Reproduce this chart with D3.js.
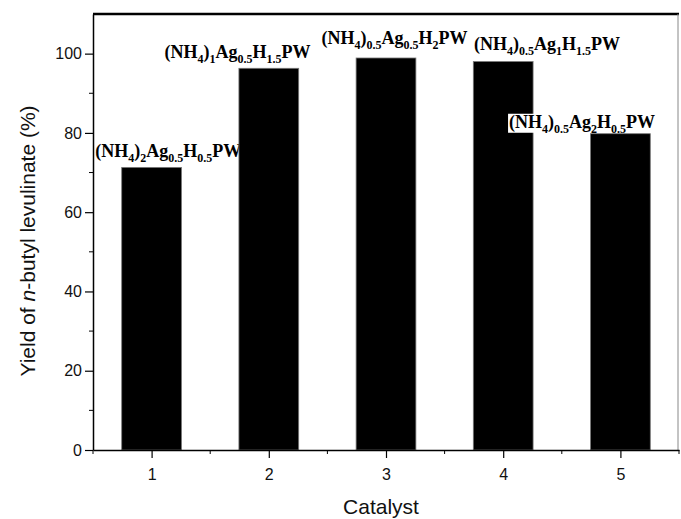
<!DOCTYPE html>
<html>
<head>
<meta charset="utf-8">
<script src="https://cdn.jsdelivr.net/npm/d3@7"></script>
<style>
  body { margin: 0; background: #fff; }
</style>
</head>
<body>
<div id="chart"></div>
<script>
// Data
const catalysts = [1, 2, 3, 4, 5];
const yields = [71.3, 96.3, 98.9, 98.0, 79.8];
// catalyst formulas, each piece is [text, isSubscript]
const formulas = [
    [["(NH", 0], ["4", 1], [")", 0], ["2", 1], ["Ag", 0], ["0.5", 1], ["H", 0], ["0.5", 1], ["PW", 0]],
    [["(NH", 0], ["4", 1], [")", 0], ["1", 1], ["Ag", 0], ["0.5", 1], ["H", 0], ["1.5", 1], ["PW", 0]],
    [["(NH", 0], ["4", 1], [")", 0], ["0.5", 1], ["Ag", 0], ["0.5", 1], ["H", 0], ["2", 1], ["PW", 0]],
    [["(NH", 0], ["4", 1], [")", 0], ["0.5", 1], ["Ag", 0], ["1", 1], ["H", 0], ["1.5", 1], ["PW", 0]],
    [["(NH", 0], ["4", 1], [")", 0], ["0.5", 1], ["Ag", 0], ["2", 1], ["H", 0], ["0.5", 1], ["PW", 0]]
];
// label start positions (in data units of catalyst / yield)
const labelX = [0.52, 1.11, 2.45, 3.75, 4.05];
const labelY = [74.0, 99.0, 102.5, 101.0, 81.3];
const yTicks = [0, 20, 40, 60, 80, 100];
const yMinor = [10, 30, 50, 70, 90];
const xMinor = [0.5, 1.5, 2.5, 3.5, 4.5, 5.5];

const width = 681,
    height = 519;
const margin = {top: 14, bottom: 69, left: 93, right: 2};

const svg = d3.select("#chart")
    .append("svg")
    .attr("width", width)
    .attr("height", height);

const xScale = d3.scaleLinear()
    .domain([0.5, 5.5])
    .range([margin.left, width - margin.right]);

const yScale = d3.scaleLinear()
    .domain([0, 110])
    .range([height - margin.bottom, margin.top]);

const barW = xScale(1.51) - xScale(1);

// draws one formula label with subscripts, optional white backing
function drawLabel(i, backed) {
    const g = svg.append("g");
    const y0 = yScale(labelY[i]);
    const t = g.append("text")
        .attr("x", xScale(labelX[i]))
        .attr("y", y0)
        .style("font-family", "Liberation Serif, Times New Roman, serif")
        .style("font-weight", "bold")
        .style("font-size", "18px")
        .attr("fill", "#000");
    let shifted = false;
    formulas[i].forEach(p => {
        const sp = t.append("tspan").text(p[0]);
        if (p[1]) {
            sp.style("font-size", "12px");
            if (!shifted) { sp.attr("dy", 5); shifted = true; }
        } else if (shifted) {
            sp.attr("dy", -5);
            shifted = false;
        }
    });
    if (backed) {
        const bb = t.node().getBBox();
        const top = bb.y + 2;
        g.insert("rect", "text")
            .attr("x", bb.x - 1).attr("y", top)
            .attr("width", bb.width + 2).attr("height", y0 + 5 - top)
            .attr("fill", "#fff");
    }
}

// first label sits behind bar 2
drawLabel(0, false);

// Bars
svg.selectAll("rect.bar")
    .data(catalysts)
    .enter().append("rect")
    .attr("class", "bar")
    .attr("x", (d, i) => xScale(d) - barW / 2)
    .attr("y", (d, i) => yScale(yields[i]))
    .attr("width", barW)
    .attr("height", (d, i) => yScale(0) - yScale(yields[i]))
    .attr("fill", "#000")
    .attr("stroke", "#777")
    .attr("stroke-width", 0.8);

for (let i = 1; i < formulas.length; i++) drawLabel(i, true);

// Frame: thick top, thin right
svg.append("line")
    .attr("x1", xScale(0.5)).attr("x2", xScale(5.5))
    .attr("y1", yScale(110)).attr("y2", yScale(110))
    .attr("stroke", "#000").attr("stroke-width", 2.5);
svg.append("line")
    .attr("x1", xScale(5.5) - 1).attr("x2", xScale(5.5) - 1)
    .attr("y1", yScale(110)).attr("y2", yScale(0))
    .attr("stroke", "#888").attr("stroke-width", 1);

// Y axis
const yAxis = svg.append("g")
    .attr("transform", `translate(${margin.left},0)`)
    .call(d3.axisLeft(yScale).tickValues(yTicks).tickSize(8).tickPadding(3).tickSizeOuter(0));
yAxis.append("g")
    .selectAll("line")
    .data(yMinor)
    .enter().append("line")
    .attr("x1", -4).attr("x2", 0)
    .attr("y1", d => yScale(d)).attr("y2", d => yScale(d))
    .attr("stroke", "#000");

// X axis
const xAxis = svg.append("g")
    .attr("transform", `translate(0,${yScale(0)})`)
    .call(d3.axisBottom(xScale).tickValues(catalysts).tickFormat(d3.format("d")).tickSize(8).tickPadding(11).tickSizeOuter(0));
xAxis.append("g")
    .selectAll("line")
    .data(xMinor)
    .enter().append("line")
    .attr("x1", d => xScale(d)).attr("x2", d => xScale(d))
    .attr("y1", 0).attr("y2", 4)
    .attr("stroke", "#000");

svg.selectAll(".domain").attr("stroke", "#000").attr("stroke-width", 1.5);
svg.selectAll(".tick line").attr("stroke", "#000").attr("stroke-width", 1.2);
svg.selectAll(".tick text")
    .style("font-family", "Liberation Sans, Arial, sans-serif")
    .style("font-size", "16px")
    .attr("fill", "#111");

// X-axis label
svg.append("text")
    .attr("x", (xScale(0.5) + xScale(5.5)) / 2 - 5)
    .attr("y", 514)
    .style("text-anchor", "middle")
    .style("font-family", "Liberation Sans, Arial, sans-serif")
    .style("font-size", "21px")
    .attr("fill", "#111")
    .text("Catalyst");

// Y-axis label
const yl = svg.append("text")
    .attr("transform", "rotate(-90)")
    .attr("x", -241)
    .attr("y", 35)
    .style("text-anchor", "middle")
    .style("font-family", "Liberation Sans, Arial, sans-serif")
    .style("font-size", "21px")
    .attr("fill", "#111");
yl.append("tspan").text("Yield of ");
yl.append("tspan").style("font-style", "italic").text("n");
yl.append("tspan").text("-butyl levulinate (%)");
</script>
</body>
</html>
